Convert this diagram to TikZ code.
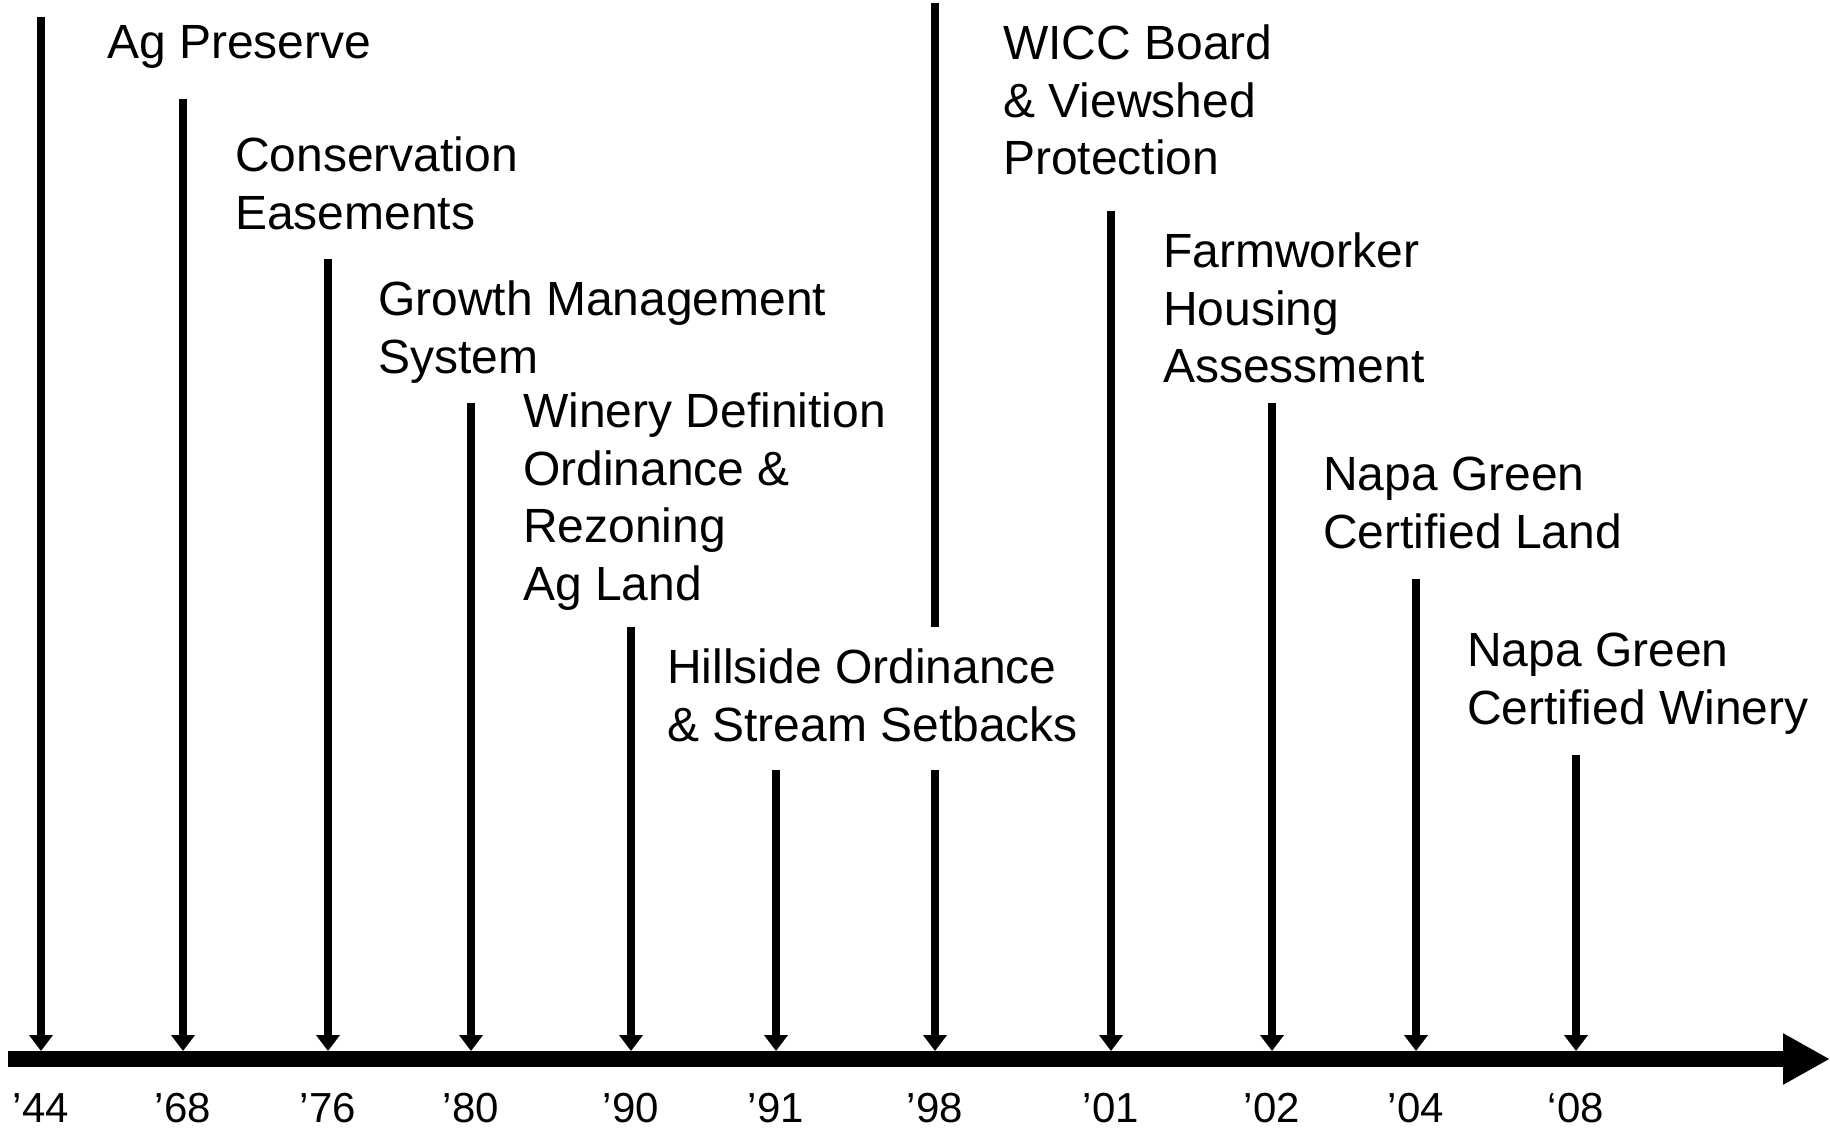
\documentclass[tikz,border=0pt]{standalone}
\usepackage{fontspec}
\setmainfont{Liberation Sans}
\usetikzlibrary{arrows.meta}

\begin{document}
\begin{tikzpicture}[x=1pt, y=-1pt,
	evt/.style={anchor=north west, inner sep=0pt, align=left, font=\fontsize{48}{57.5}\selectfont},
	yr/.style={anchor=north, inner sep=0pt, font=\fontsize{42}{50}\selectfont},
	drop/.style={line width=8pt, -{Triangle[length=16pt, width=23pt]}},
	axisline/.style={line width=16pt, -{Triangle[length=47pt, width=48pt]}}]
			\useasboundingbox (0,0) rectangle (1830,1129);
			% time axis
			\coordinate (start) at (8,1059);
			\coordinate (end) at (1830,1059);
			\draw [axisline] (start) -- (end);
			% years
			\node (y44) [yr] at (41,1093) {’44};
			\node (y68) [yr] at (183,1093) {’68};
			\node (y76) [yr] at (328,1093) {’76};
			\node (y80) [yr] at (471,1093) {’80};
			\node (y90) [yr] at (631,1093) {’90};
			\node (y91) [yr] at (776,1093) {’91};
			\node (y98) [yr] at (935,1093) {’98};
			\node (y01) [yr] at (1111,1093) {’01};
			\node (y02) [yr] at (1272,1093) {’02};
			\node (y04) [yr] at (1416,1093) {’04};
			\node (y08) [yr] at (1576,1093) {‘08};
			% events
			\node (n1) [evt] at (107,25) {Ag Preserve};
			\node (n2) [evt] at (235,137) {Conservation\\Easements};
			\node (n3) [evt] at (378,281) {Growth Management\\System};
			\node (n4) [evt] at (523,393) {Winery Definition\\Ordinance \&\\Rezoning\\Ag Land};
			\node (n5) [evt] at (667,649) {Hillside Ordinance\\\& Stream Setbacks};
			\node (n6) [evt] at (1003,25) {WICC Board\\\& Viewshed\\Protection};
			\node (n7) [evt] at (1163,233) {Farmworker\\Housing\\Assessment};
			\node (n8) [evt] at (1323,457) {Napa Green\\Certified Land};
			\node (n9) [evt] at (1467,633) {Napa Green\\Certified Winery};
			% tops of the markers and their ends on the axis
			\coordinate (t44) at (41,17);    \coordinate (a44) at (41,1051);
			\coordinate (t68) at (183,99);   \coordinate (a68) at (183,1051);
			\coordinate (t76) at (328,259);  \coordinate (a76) at (328,1051);
			\coordinate (t80) at (471,403);  \coordinate (a80) at (471,1051);
			\coordinate (t90) at (631,627);  \coordinate (a90) at (631,1051);
			\coordinate (t91) at (776,770);  \coordinate (a91) at (776,1051);
			\coordinate (t98) at (935,3);    \coordinate (g98) at (935,627);
			\coordinate (h98) at (935,770);  \coordinate (a98) at (935,1051);
			\coordinate (t01) at (1111,211); \coordinate (a01) at (1111,1051);
			\coordinate (t02) at (1272,403); \coordinate (a02) at (1272,1051);
			\coordinate (t04) at (1416,579); \coordinate (a04) at (1416,1051);
			\coordinate (t08) at (1576,755); \coordinate (a08) at (1576,1051);
			\draw [drop] (t44) -- (a44);
			\draw [drop] (t68) -- (a68);
			\draw [drop] (t76) -- (a76);
			\draw [drop] (t80) -- (a80);
			\draw [drop] (t90) -- (a90);
			\draw [drop] (t91) -- (a91);
			\draw [line width=8pt] (t98) -- (g98);
			\draw [drop] (h98) -- (a98);
			\draw [drop] (t01) -- (a01);
			\draw [drop] (t02) -- (a02);
			\draw [drop] (t04) -- (a04);
			\draw [drop] (t08) -- (a08);
		\end{tikzpicture}
\end{document}
